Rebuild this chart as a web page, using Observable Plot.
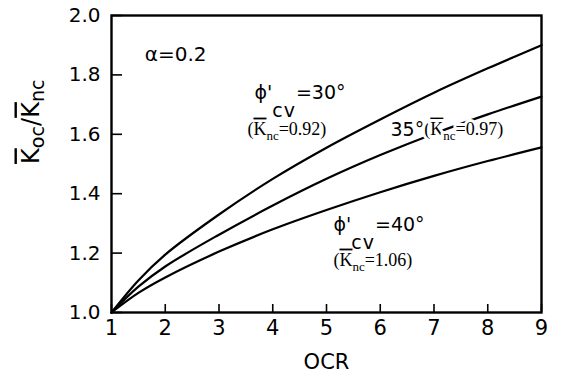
<!DOCTYPE html>
<html>
<head>
<meta charset="utf-8">
<style>
  html, body { margin: 0; padding: 0; background: #fff; }
</style>
</head>
<body>
<div id="chart"></div>
<script src="https://cdn.jsdelivr.net/npm/d3@7"></script>
<script src="https://cdn.jsdelivr.net/npm/@observablehq/plot@0.6"></script>
<script>
// Over-consolidation ratio and normalised earth-pressure ratio, alpha = 0.2
const ocr = [1, 1.5, 2, 3, 4, 5, 6, 7, 8, 9];
const k30 = [1, 1.108, 1.195, 1.33, 1.45, 1.555, 1.65, 1.74, 1.822, 1.90];
const k35 = [1, 1.087, 1.155, 1.262, 1.36, 1.45, 1.53, 1.602, 1.667, 1.727];
const k40 = [1, 1.066, 1.118, 1.205, 1.28, 1.345, 1.405, 1.46, 1.51, 1.556];

const phiAngles = ["30°", "35°", "40°"];
const kncValues = ["0.92", "0.97", "1.06"];
const alphaLabel = "α=0.2";

const xTicks = [1, 2, 3, 4, 5, 6, 7, 8, 9];
const yTicks = [1.0, 1.2, 1.4, 1.6, 1.8, 2.0];

// long table for the line mark
const series = [k30, k35, k40];
const rows = series.flatMap((ks, s) => ocr.map((o, i) => ({ocr: o, k: ks[i], phi: phiAngles[s]})));

// small markup: ^{..} overline, _s{..} small subscript, _l{..} lowered letters, _y{..} axis subscript
const phiText = (a) => `ϕ'_l{cv}=${a}`;
const kncText = (v) => `(^{K}_s{nc}=${v})`;

const sans = "DejaVu Sans";
const serif = "Liberation Serif";

const chart = Plot.plot({
  width: 561,
  height: 378,
  marginLeft: 111,
  marginRight: 20,
  marginTop: 15,
  marginBottom: 66,
  x: {domain: [1, 9]},
  y: {domain: [1, 2]},
  style: {fontFamily: sans, fontSize: "19px", color: "black", background: "white"},
  marks: [
    Plot.axisX({ticks: xTicks, tickSize: 0, tickPadding: 8, fontSize: 21, label: null}),
    Plot.axisY({ticks: yTicks, tickSize: 0, tickPadding: 11, fontSize: 20, tickFormat: d3.format(".1f"), label: null}),
    // inward tick marks on the left and bottom edges
    Plot.tickX(xTicks, {x: d => d, insetTop: 289, strokeWidth: 1.6, stroke: "black"}),
    Plot.tickY(yTicks, {y: d => d, insetRight: 419, strokeWidth: 1.6, stroke: "black"}),
    Plot.line(rows, {x: "ocr", y: "k", z: "phi", curve: "catmull-rom", stroke: "black", strokeWidth: 2.2}),
    Plot.frame({stroke: "black", strokeWidth: 2.4}),

    // annotations
    Plot.text([alphaLabel], {x: 1.62, y: 1.848, textAnchor: "start", lineAnchor: "bottom", fontSize: 20}),
    Plot.text([phiText(phiAngles[0])], {x: 3.66, y: 1.72, textAnchor: "start", lineAnchor: "bottom", fontSize: 19}),
    Plot.text([kncText(kncValues[0])], {x: 3.53, y: 1.599, textAnchor: "start", lineAnchor: "bottom", fontSize: 18, fontFamily: serif}),
    Plot.text([phiAngles[1]], {x: 6.19, y: 1.593, textAnchor: "start", lineAnchor: "bottom", fontSize: 19}),
    Plot.text([kncText(kncValues[1])], {x: 6.82, y: 1.599, textAnchor: "start", lineAnchor: "bottom", fontSize: 18, fontFamily: serif, stroke: "white", strokeWidth: 6, fill: "black"}),
    Plot.text([phiText(phiAngles[2])], {x: 5.13, y: 1.276, textAnchor: "start", lineAnchor: "bottom", fontSize: 19}),
    Plot.text([kncText(kncValues[2])], {x: 5.13, y: 1.158, textAnchor: "start", lineAnchor: "bottom", fontSize: 18, fontFamily: serif}),

    // axis titles
    Plot.text(["OCR"], {frameAnchor: "bottom", dy: 56, lineAnchor: "bottom", fontSize: 21}),
    Plot.text(["^{K}_y{oc}/^{K}_y{nc}"], {frameAnchor: "left", dx: -73, rotate: -90, lineAnchor: "bottom", fontSize: 24})
  ]
});

document.getElementById("chart").appendChild(chart);

// expand the markup into tspans
const subStyles = {
  "_s": {size: 0.72, dy: 0.28, spacing: 0, back: 0},
  "_l": {size: 1.0, dy: 0.95, spacing: 1, back: 0},
  "_y": {size: 0.8, dy: 0.22, spacing: 0, back: 0}
};
d3.select(chart).selectAll("text").each(function () {
  const s = this.textContent;
  if (!/(_[sly]|\^)\{/.test(s)) return;
  const fs = parseFloat(getComputedStyle(this).fontSize);
  const sel = d3.select(this);
  this.textContent = "";
  let shift = 0, back = 0;
  const add = (t) => {
    const ts = sel.append("tspan").text(t);
    if (shift) { ts.attr("dy", -shift); shift = 0; }
    if (back) { ts.attr("dx", back); back = 0; }
    return ts;
  };
  const re = /(_[sly]|\^)\{([^}]*)\}/g;
  let last = 0, m;
  while ((m = re.exec(s))) {
    if (m.index > last) add(s.slice(last, m.index));
    if (m[1] === "^") {
      add(m[2]).style("text-decoration", "overline");
    } else {
      const st = subStyles[m[1]];
      const d = st.dy * fs;
      sel.append("tspan").text(m[2])
        .attr("dy", d - shift)
        .attr("font-size", st.size * fs)
        .attr("letter-spacing", st.spacing);
      shift = d;
      back = st.back;
    }
    last = re.lastIndex;
  }
  if (last < s.length) add(s.slice(last));
});
</script>
</body>
</html>
